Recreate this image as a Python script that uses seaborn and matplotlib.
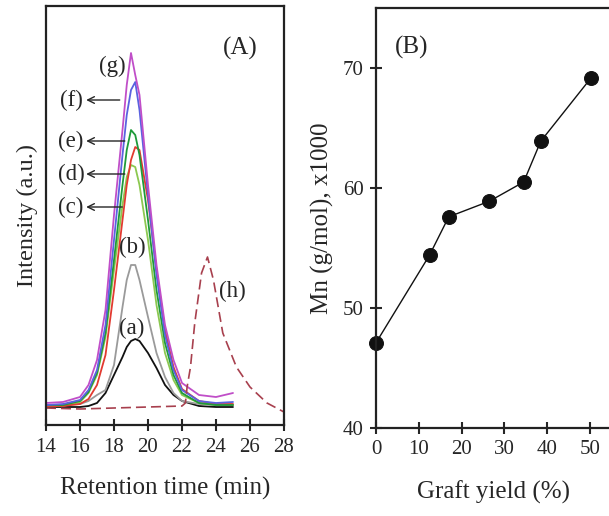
import matplotlib
matplotlib.use("Agg")
import matplotlib.pyplot as plt
import seaborn as sns
import numpy as np
import pandas as pd

# ---------------- data ----------------
# Panel A: GPC traces (intensity in arbitrary units)
t_grid = [14, 15, 16, 16.5, 17, 17.5, 18, 18.5, 18.75, 19, 19.25, 19.5,
          20, 20.5, 21, 21.5, 22, 23, 24, 25]
curve_a = [18, 18, 18, 19, 22, 32, 50, 68, 78, 84, 86, 84, 72, 57, 40, 30, 24, 19, 18, 18]
curve_b = [20, 20, 21, 24, 30, 35, 60, 118, 145, 160, 160, 145, 108, 72, 48, 32, 24, 21, 20, 20]
curve_c = [19, 19, 23, 32, 50, 88, 155, 220, 248, 260, 258, 240, 185, 120, 72, 45, 30, 22, 20, 20]
curve_d = [19, 19, 21, 26, 40, 70, 135, 205, 240, 265, 278, 275, 225, 155, 95, 58, 36, 24, 21, 21]
curve_e = [20, 20, 24, 33, 52, 92, 165, 240, 275, 295, 290, 270, 205, 135, 82, 50, 32, 22, 20, 20]
curve_f = [20, 21, 25, 35, 55, 100, 185, 270, 310, 335, 343, 315, 230, 150, 90, 55, 35, 24, 22, 23]
curve_g = [22, 23, 28, 40, 65, 115, 210, 295, 340, 372, 350, 330, 240, 160, 100, 65, 42, 30, 28, 32]

t_h = [14, 16, 18, 20, 22, 22.2, 22.3, 22.5, 22.75, 23.15, 23.5, 23.85,
       24.4, 25.2, 26, 27, 28]
curve_h = [17, 16, 17, 18, 19, 22, 38, 58, 102, 152, 168, 145, 92, 58, 38, 22, 13]

series_labels = ["(a)", "(b)", "(c)", "(d)", "(e)", "(f)", "(g)", "(h)"]
series_colors = ["#111111", "#9a9a9a", "#8cc850", "#e23a30", "#1f9a3a",
                 "#5a62e0", "#c04ec8", "#a8404e"]

# Panel B: Mn vs graft yield
graft_yield = [0, 12.5, 17, 26.5, 34.5, 38.5, 50.3]
mn_values = [47.1, 54.4, 57.6, 58.9, 60.5, 63.9, 69.2]

xticks_a = [14, 16, 18, 20, 22, 24, 26, 28]
xticks_b = [0, 10, 20, 30, 40, 50]
yticks_b = [40, 50, 60, 70]

# ---------------- style ----------------
sns.set_theme(style="ticks")
plt.rcParams["font.family"] = ["Liberation Serif", "DejaVu Serif"]
plt.rcParams["axes.edgecolor"] = "#222222"
plt.rcParams["axes.linewidth"] = 1.6

TXT = "#262626"
fig = plt.figure(figsize=(6.09, 5.16), dpi=100)
axA = fig.add_axes([46 / 609, 91 / 516, 238 / 609, 419 / 516])
axB = fig.add_axes([376 / 609, 88 / 516, 235.4 / 609, 420 / 516])

# ---------------- panel A ----------------
solid = [curve_a, curve_b, curve_c, curve_d, curve_e, curve_f, curve_g]
for vals, col in zip(solid, series_colors[:7]):
    df = pd.DataFrame({"t": t_grid, "I": vals})
    sns.lineplot(data=df, x="t", y="I", ax=axA, color=col, linewidth=1.3,
                 sort=False, estimator=None)
dfh = pd.DataFrame({"t": t_h, "I": curve_h})
sns.lineplot(data=dfh, x="t", y="I", ax=axA, color=series_colors[7],
             linewidth=1.2, linestyle=(0, (6, 3)), sort=False, estimator=None)

axA.set_xlim(14, 28)
axA.set_ylim(0, 419)
axA.set_xticks(xticks_a)
axA.set_yticks([])
axA.tick_params(axis="x", direction="inout", length=8, width=1.5,
                labelsize=15, colors=TXT, pad=5)
axA.set_xlabel("Retention time (min)", fontsize=18, labelpad=15, color=TXT)
axA.set_ylabel("Intensity (a.u.)", fontsize=17.5, labelpad=6, color=TXT)

fs = 16.5
axA.text(24.4, 377, "(A)", fontsize=18, ha="left", va="center", color=TXT)
axA.text(17.9, 359, series_labels[6], fontsize=fs, ha="center", va="center", color=TXT)
axA.text(19.1, 178, series_labels[1], fontsize=fs, ha="center", va="center", color=TXT)
axA.text(19.05, 97, series_labels[0], fontsize=fs, ha="center", va="center", color=TXT)
axA.text(24.95, 134, series_labels[7], fontsize=fs, ha="center", va="center", color=TXT)

arrow_rows = [(series_labels[5], 325, 18.5), (series_labels[4], 284, 18.8),
              (series_labels[3], 251, 18.8), (series_labels[2], 218, 18.65)]
for lab, yv, xend in arrow_rows:
    axA.text(15.47, yv, lab, fontsize=fs, ha="center", va="center", color=TXT)
    axA.annotate("", xy=(16.2, yv), xytext=(xend, yv),
                 arrowprops=dict(arrowstyle="->", color=TXT, lw=1.0))

# ---------------- panel B ----------------
dfb = pd.DataFrame({"yield": graft_yield, "Mn": mn_values})
sns.lineplot(data=dfb, x="yield", y="Mn", ax=axB, color="#111111", linewidth=1.0,
             marker="o", markersize=10, markeredgecolor="#111111",
             markerfacecolor="#111111", sort=False, estimator=None, clip_on=False)
axB.set_xlim(0, 55)
axB.set_ylim(40, 75)
axB.set_xticks(xticks_b)
axB.set_yticks(yticks_b)
axB.tick_params(axis="both", direction="inout", length=8, width=1.5,
                labelsize=15, colors=TXT, pad=5)
axB.set_xlabel("Graft yield (%)", fontsize=18, labelpad=15, color=TXT)
axB.set_ylabel("Mn (g/mol), x1000", fontsize=18, labelpad=6, color=TXT)
axB.text(8.4, 71.7, "(B)", fontsize=18, ha="center", va="center", color=TXT)

fig.savefig("out.png", dpi=100)
